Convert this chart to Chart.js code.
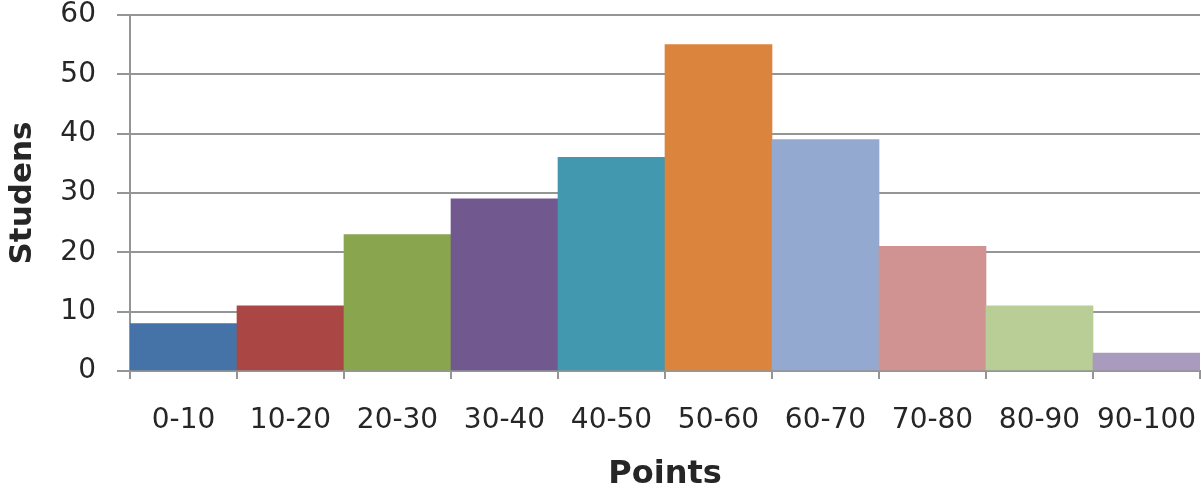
<!DOCTYPE html>
<html>
<head>
<meta charset="utf-8">
<script src="https://cdn.jsdelivr.net/npm/chart.js@4/dist/chart.umd.min.js"></script>
<style>
  html, body { margin: 0; padding: 0; background: #fff; }
  #wrap { width: 1201px; height: 494px; }
</style>
</head>
<body>
<div id="wrap"><canvas id="histChart" width="1201" height="494"></canvas></div>
<script>
// bins and counts
const bins = ["0-10", "10-20", "20-30", "30-40", "40-50", "50-60", "60-70", "70-80", "80-90", "90-100"];
const students = [8, 11, 23, 29, 36, 55, 39, 21, 11, 3];
const yTicks = [0, 10, 20, 30, 40, 50, 60];
const barColors = ["#4572a7", "#aa4643", "#89a54e", "#71588f", "#4198af",
                   "#db843d", "#93a9cf", "#d19392", "#b9cd96", "#a99bbd"];

const textColor = "#262626";
const lineColor = "#959595";
const fontFamily = "'DejaVu Sans', sans-serif";

const ctx = document.getElementById("histChart").getContext("2d");

new Chart(ctx, {
  type: "bar",
  data: {
    labels: bins,
    datasets: [
      {
        label: "Studens",
        data: students,
        backgroundColor: barColors,
        borderWidth: 0,
        barPercentage: 1.0,
        categoryPercentage: 1.0
      }
    ]
  },
  options: {
    responsive: false,
    animation: false,
    layout: { padding: { top: 15, right: 1, left: 0, bottom: 0 } },
    plugins: {
      legend: { display: false },
      tooltip: { enabled: false }
    },
    scales: {
      x: {
        afterFit: (scale) => {
          scale.height = 123;
          scale.paddingLeft = 0;
          scale.paddingRight = 0;
        },
        grid: {
          offset: true,
          drawOnChartArea: false,
          drawTicks: true,
          tickLength: 8,
          color: lineColor,
          lineWidth: 2
        },
        border: { display: true, color: lineColor, width: 2 },
        ticks: {
          color: textColor,
          padding: 25,
          font: { family: fontFamily, size: 28 }
        },
        title: {
          display: true,
          text: "Points",
          color: textColor,
          padding: { top: 0, bottom: 0 },
          font: { family: fontFamily, size: 32, weight: "bold" }
        }
      },
      y: {
        min: 0,
        max: 60,
        afterFit: (scale) => {
          scale.width = 130;
          scale.paddingTop = 0;
          scale.paddingBottom = 0;
        },
        afterBuildTicks: (scale) => {
          scale.ticks = yTicks.map((v) => ({ value: v }));
        },
        grid: {
          color: lineColor,
          lineWidth: 2,
          drawTicks: true,
          tickLength: 13
        },
        border: { display: true, color: lineColor, width: 2 },
        ticks: {
          color: textColor,
          padding: 21,
          font: { family: fontFamily, size: 28 }
        },
        title: {
          display: true,
          text: "Studens",
          color: textColor,
          padding: { top: 4, bottom: 0 },
          font: { family: fontFamily, size: 31, weight: "bold" }
        }
      }
    }
  }
});
</script>
</body>
</html>
